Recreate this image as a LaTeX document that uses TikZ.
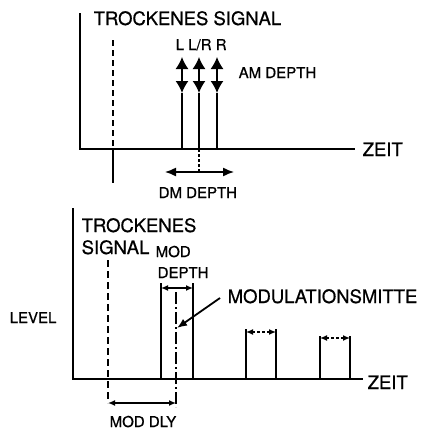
\documentclass[tikz,border=0pt]{standalone}
\usepackage{fontspec}
\setmainfont{TeX Gyre Heros}[BoldFont=TeX Gyre Heros, BoldFeatures={FakeBold=0.7}]
\usetikzlibrary{arrows.meta}
\tikzset{
  biglabel/.style={font=\bfseries\fontsize{18.5}{22}\selectfont, inner sep=0pt, anchor=base west},
  smalllabel/.style={font=\bfseries\fontsize{15}{21}\selectfont, inner sep=0pt, anchor=base west, align=left},
  axisline/.style={line width=2pt},
  thinline/.style={line width=1.4pt},
  ampl/.style={line width=1.4pt, {Latex[length=12pt,width=13pt]}-{Latex[length=12pt,width=13pt]}},
  wide/.style={line width=1.4pt, {Latex[length=11pt,width=9pt]}-{Latex[length=11pt,width=9pt]}},
  narrow/.style={line width=1.3pt, {Latex[length=7pt,width=6pt]}-{Latex[length=7pt,width=6pt]}},
}
\begin{document}
\begin{tikzpicture}[x=1pt, y=-1pt, line width=1.4pt]
  \useasboundingbox (0,0) rectangle (424,431);
  % upper picture
  \coordinate (Y1) at (80,13); \coordinate (O1) at (80,149); \coordinate (X1) at (355,149);
  \draw[axisline] (Y1) -- (O1) -- (X1);
  \node[biglabel] (zeitA) at (362,156) {ZEIT};
  \node[biglabel] (dryA) at (93,25) {TROCKENES SIGNAL};
  \coordinate (dA1) at (113,40); \coordinate (dA2) at (113,149); \coordinate (dA3) at (113,183);
  \draw[thinline, dashed, dash pattern=on 6pt off 4pt] (dA1) -- (dA2);
  \draw[thinline] (dA2) -- (dA3);
  \foreach \x/\n in {182/l, 199/c, 217/r} {
    \coordinate (\n0) at (\x,149); \coordinate (\n1) at (\x,93); \coordinate (\n2) at (\x,57);
    \draw[thinline] (\n0) -- (\n1);
    \draw[ampl] (\n1) -- (\n2);
  }
  \node[smalllabel] (lr) at (175,50) {L L/R R};
  \node[smalllabel] (amdepth) at (238,78) {AM DEPTH};
  \coordinate (dm0) at (199,172); \coordinate (dmL) at (165,172); \coordinate (dmR) at (234,172);
  \draw[thinline, densely dashed] (c0) -- (dm0);
  \draw[wide] (dmL) -- (dmR);
  \node[smalllabel] (dmdepth) at (158,198) {DM DEPTH};
  % lower picture
  \coordinate (Y2) at (73,208); \coordinate (O2) at (73,379); \coordinate (X2) at (363,379);
  \draw[axisline] (Y2) -- (O2) -- (X2);
  \node[biglabel] (zeitB) at (367,389) {ZEIT};
  \node[biglabel, align=left] (dryB) at (81,254) {TROCKENES\\SIGNAL};
  \node[smalllabel] (moddepth) at (155,278) {MOD\\\hspace{2pt}DEPTH};
  \node[smalllabel] (level) at (9,323) {LEVEL};
  \coordinate (dB1) at (108,260); \coordinate (dB2) at (108,403);
  \draw[thinline, dashed, dash pattern=on 7pt off 4pt] (dB1) -- (dB2);
  % pulses
  \draw[thinline] (161,379) -- (161,283) (193,379) -- (193,283);
  \draw[narrow] (161,288) -- (193,288);
  \draw[thinline] (246,379) -- (246,329) (276,379) -- (276,329);
  \draw[narrow, densely dashed] (246,332) -- (276,332);
  \draw[thinline] (320,379) -- (320,336) (350,379) -- (350,336);
  \draw[narrow, densely dashed] (320,338) -- (350,338);
  % centre of the modulation
  \coordinate (m1) at (176,292); \coordinate (m2) at (176,407); \coordinate (m3) at (177,328);
  \draw[thinline, dash pattern=on 12pt off 3pt on 2pt off 3pt] (m1) -- (m2);
  \node[biglabel] (mitte) at (227,303) {MODULATIONSMITTE};
  \coordinate (p0) at (220,298);
  \draw[line width=1.8pt, -{Latex[length=10pt,width=8pt]}] (p0) -- (m3);
  \coordinate (dl) at (108,403); \coordinate (dr) at (176,403);
  \draw[narrow] (dl) -- (dr);
  \node[smalllabel] (moddly) at (109,427) {MOD DLY};
\end{tikzpicture}
\end{document}
